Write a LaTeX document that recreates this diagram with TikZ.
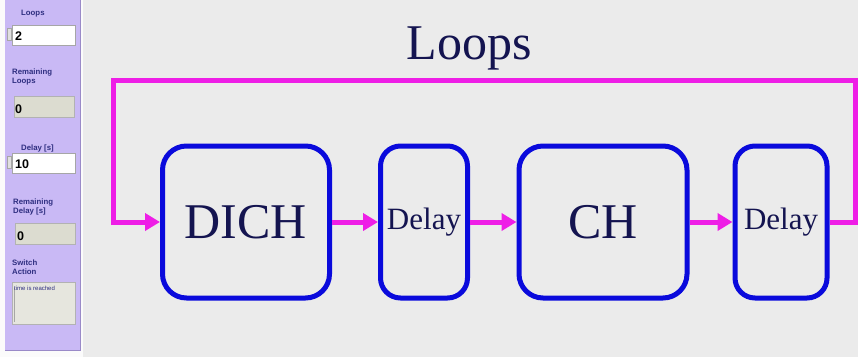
\documentclass[tikz,border=0pt]{standalone}
\usepackage{fontspec}
\setmainfont{Liberation Serif}
\newfontfamily\panelfont{Liberation Sans}
\usetikzlibrary{arrows.meta}
\definecolor{bg}{HTML}{EBEBEB}
\definecolor{panel}{HTML}{C9B9F5}
\definecolor{panelborder}{HTML}{9A8AC8}
\definecolor{boxblue}{HTML}{0A0ADC}
\definecolor{loopmag}{HTML}{EE1EE6}
\definecolor{navy}{HTML}{141450}
\definecolor{ptext}{HTML}{2E2E80}
\definecolor{grayfield}{HTML}{DCDCD0}
\tikzset{
  blockbox/.style={draw=boxblue, line width=5pt, rounded corners=24pt, minimum height=152pt, inner sep=0pt, text=navy},
  bigtxt/.style={font=\fontsize{50}{50}\selectfont},
  delaytxt/.style={font=\fontsize{31}{31}\selectfont},
  flow/.style={draw=loopmag, line width=5pt, -{Triangle[length=15pt,width=17pt]}},
  plabel/.style={font=\panelfont\bfseries\fontsize{7.8}{8.6}\selectfont, text=ptext, align=left, inner sep=0pt},
  pinput/.style={draw=gray!70, fill=white, line width=0.6pt, minimum width=63pt, minimum height=20pt, inner sep=0pt},
  pgray/.style={draw=gray!60, fill=grayfield, line width=0.6pt, minimum width=60pt, minimum height=21pt, inner sep=0pt},
  pval/.style={font=\panelfont\bfseries\fontsize{12.5}{12.5}\selectfont, text=black, inner sep=0pt, anchor=west},
  spin/.style={draw=gray!70, fill=gray!25, line width=0.4pt, minimum width=4pt, minimum height=12pt, inner sep=0pt}
}
\begin{document}
\begin{tikzpicture}[x=1pt,y=-1pt]
\useasboundingbox (0,0) rectangle (858,357);
% backgrounds
\fill[white!97!gray] (0,0) rectangle (858,357);
\fill[bg] (83,0) rectangle (858,357);
\fill[panel] (5,0) rectangle (80,350);
\draw[panelborder, line width=1pt] (80,0) -- (80,350) -- (5,350);
% panel widgets
\node[plabel, anchor=west] (l1) at (21,14) {Loops};
\node[pinput] (in1) at (44,35) {};
\node[spin] (sp1) at (9,34) {};
\node[pval] (v1) at (15,36) {2};
\node[plabel, anchor=west] (l2) at (12,77) {Remaining\\Loops};
\node[pgray] (g1) at (44,107) {};
\node[pval] (v2) at (15,109) {0};
\node[plabel, anchor=west] (l3) at (21,148) {Delay [s]};
\node[pinput] (in2) at (44,163) {};
\node[spin] (sp2) at (9,162) {};
\node[pval] (v3) at (15,164) {10};
\node[plabel, anchor=west] (l4) at (13,207) {Remaining\\Delay [s]};
\node[pgray] (g2) at (45,234) {};
\node[pval] (v4) at (17,236) {0};
\node[plabel, anchor=west] (l5) at (12,267) {Switch\\Action};
\node[draw=gray!60, fill=grayfield!70, line width=0.6pt, minimum width=63pt, minimum height=42pt, inner sep=0pt] (ta) at (44,303) {};
\draw[gray!70, line width=1pt] (ta.north west) ++(2,6) -- ++(0,34);
\node[plabel, anchor=west, font=\panelfont\fontsize{6}{6}\selectfont] (tt) at (14,288) {time is reached};
% title
\node[bigtxt, text=navy] (title) at (469,48) {Loops};
% blocks
\node[blockbox, bigtxt, minimum width=167pt] (dich) at (246,222) {DICH};
\node[blockbox, delaytxt, minimum width=87pt, rounded corners=20pt] (d1) at (424,222) {Delay};
\node[blockbox, bigtxt, minimum width=168pt] (ch) at (603,222) {CH};
\node[blockbox, delaytxt, minimum width=92pt, rounded corners=20pt] (d2) at (781,222) {Delay};
% connectors
\coordinate (r1) at (855,222);
\coordinate (r2) at (855,80);
\coordinate (l1c) at (113,80);
\coordinate (l2c) at (113,222);
\draw[flow] (dich.east) -- (d1.west);
\draw[flow] (d1.east) -- (ch.west);
\draw[flow] (ch.east) -- (d2.west);
\draw[flow] (d2.east) -- (r1) -- (r2) -- (l1c) -- (l2c) -- (dich.west);
\end{tikzpicture}
\end{document}
